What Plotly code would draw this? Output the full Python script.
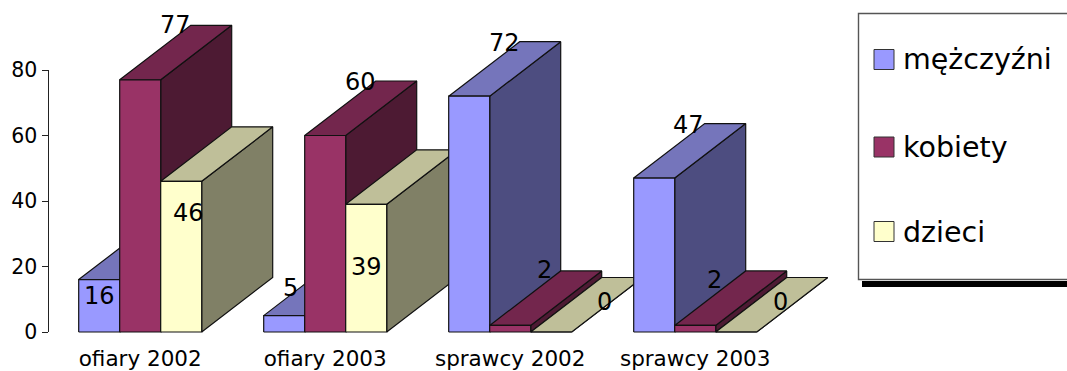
import plotly.graph_objects as go

# Chart data
categories = ["ofiary 2002", "ofiary 2003", "sprawcy 2002", "sprawcy 2003"]
series_names = ["mężczyźni", "kobiety", "dzieci"]
men = [16, 5, 72, 47]
women = [77, 60, 2, 2]
children = [46, 39, 0, 0]
y_ticks = [0, 20, 40, 60, 80]

series = [men, women, children]
front_colors = ["#9999FF", "#993366", "#FFFFCC"]
top_colors = ["#7575BB", "#73264D", "#BFBF99"]
side_colors = ["#4D4D80", "#4D1A33", "#808066"]

WIDTH, HEIGHT = 1067, 371
PLOT_LEFT, PLOT_RIGHT = 48.5, 840
ZERO_PX = 332
PX_PER_UNIT = 262 / 80
PLOT_BOTTOM = ZERO_PX + 1       # a pixel of slack keeps the base edges unclipped
GROUP_PX = 185
FIRST_CENTER_PX = 140.2
BAR_W = 41 / GROUP_PX           # bar width in category units
DEPTH_X = 71 / GROUP_PX         # horizontal extent of the extrusion
DEPTH_Y = 54.5 / PX_PER_UNIT    # vertical extent, in value units

# Label shift from the top centre of its bar: (series, group) -> (dx, dy) px, dy downwards
label_shift = {
    (0, 0): (0, 16), (1, 0): (35, -55), (2, 0): (7, 32),
    (0, 1): (6, -28), (1, 1): (35, -54), (2, 1): (0, 63),
    (0, 2): (35, -53), (1, 2): (34, -55), (2, 2): (53, -30),
    (0, 3): (34, -53), (1, 3): (19, -45), (2, 3): (44, -30),
}


def face(xs, ys, color):
    return go.Scatter(
        x=xs + xs[:1], y=ys + ys[:1], mode="lines", fill="toself", fillcolor=color,
        line=dict(color="#111111", width=1.2),
        hoverinfo="skip", showlegend=False,
    )


fig = go.Figure()
annotations = []
for g in range(len(categories)):
    for s, values in enumerate(series):
        v = values[g]
        x0 = g + (s - 1.5) * BAR_W
        x1 = x0 + BAR_W
        # Each bar is a front, top and side face; later bars cover earlier sides
        fig.add_trace(face([x1, x1 + DEPTH_X, x1 + DEPTH_X, x1],
                           [0, DEPTH_Y, v + DEPTH_Y, v], side_colors[s]))
        fig.add_trace(face([x0, x0 + DEPTH_X, x1 + DEPTH_X, x1],
                           [v, v + DEPTH_Y, v + DEPTH_Y, v], top_colors[s]))
        fig.add_trace(face([x0, x1, x1, x0], [0, 0, v, v], front_colors[s]))
        dx, dy = label_shift[(s, g)]
        annotations.append(dict(
            x=(x0 + x1) / 2, y=v, xref="x", yref="y", text=str(v), showarrow=False,
            xshift=dx, yshift=-dy, xanchor="center", yanchor="middle",
            font=dict(size=24, color="black"),
        ))


def px_x(p):
    return p / WIDTH


def px_y(p):
    return 1 - p / HEIGHT


shapes = [
    # Value axis line stops at the top tick although the plot area runs higher
    dict(type="line", xref="paper", yref="y", x0=px_x(PLOT_LEFT), x1=px_x(PLOT_LEFT),
         y0=y_ticks[0], y1=y_ticks[-1], line=dict(color="#222222", width=1)),
    # Legend frame with its drop shadow, running off the right edge
    dict(type="rect", xref="paper", yref="paper", x0=px_x(862), x1=px_x(1075),
         y0=px_y(281), y1=px_y(287), fillcolor="black", line=dict(width=0)),
    dict(type="rect", xref="paper", yref="paper", x0=px_x(858.5), x1=px_x(1075),
         y0=px_y(279.5), y1=px_y(13.5), fillcolor="white", line=dict(color="#555555", width=1.4)),
]
legend_y = [59.5, 147, 231.5]
for name, color, cy in zip(series_names, front_colors, legend_y):
    shapes.append(dict(type="rect", xref="paper", yref="paper", x0=px_x(874), x1=px_x(894),
                       y0=px_y(cy + 10), y1=px_y(cy - 10), fillcolor=color,
                       line=dict(color="#333333", width=1)))
    annotations.append(dict(x=px_x(901.5), y=px_y(cy + 0.5), xref="paper", yref="paper", text=name,
                            showarrow=False, xanchor="left", yanchor="middle",
                            font=dict(size=28.5, color="black")))

fig.update_layout(
    width=WIDTH, height=HEIGHT, autosize=False,
    margin=dict(l=0, r=0, t=0, b=0),
    paper_bgcolor="white", plot_bgcolor="white",
    font=dict(family="DejaVu Sans", color="black"),
    showlegend=False, shapes=shapes, annotations=annotations,
    xaxis=dict(
        automargin=False,
        domain=[px_x(PLOT_LEFT), px_x(PLOT_RIGHT)],
        range=[(PLOT_LEFT - FIRST_CENTER_PX) / GROUP_PX, (PLOT_RIGHT - FIRST_CENTER_PX) / GROUP_PX],
        tickmode="array", tickvals=list(range(len(categories))), ticktext=categories,
        ticks="outside", ticklen=6, tickcolor="rgba(0,0,0,0)",
        showgrid=False, zeroline=False, showline=False, tickfont=dict(size=21.5),
    ),
    yaxis=dict(
        automargin=False,
        domain=[px_y(PLOT_BOTTOM), 1],
        range=[(ZERO_PX - PLOT_BOTTOM) / PX_PER_UNIT, ZERO_PX / PX_PER_UNIT],
        tickmode="array", tickvals=y_ticks,
        ticks="outside", ticklen=6, tickcolor="#222222", tickwidth=1,
        showline=False, showgrid=False, zeroline=False, tickfont=dict(size=20.5),
    ),
)

fig.write_html("out.html", config=dict(displayModeBar=False))
